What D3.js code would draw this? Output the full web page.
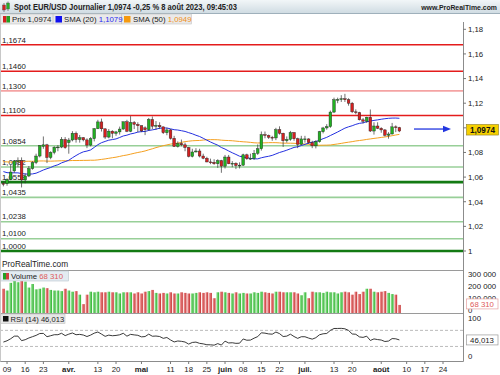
<!DOCTYPE html>
<html>
<head>
<meta charset="utf-8">
<script src="https://cdnjs.cloudflare.com/ajax/libs/d3/7.8.5/d3.min.js"></script>
<style>
body { margin: 0; background: #fff; }
svg { display: block; font-family: "Liberation Sans", Arial, sans-serif; }
</style>
</head>
<body>
<div id="chart"></div>
<script>
// EUR/USD daily candles, 8 mars -> 8 août 2023 (one value per trading day)
var opens = [1.0548,1.0546,1.0581,1.0650,1.0731,1.0733,1.0577,1.0609,1.0669,1.0718,
  1.0771,1.0850,1.0862,1.0759,1.0800,1.0843,1.0844,1.0906,1.0880,1.0901,
  1.0956,1.0905,1.0920,1.0902,1.0860,1.0912,1.0993,1.1048,1.0992,1.0925,
  1.0973,1.0955,1.0967,1.0990,1.1049,1.0972,1.1043,1.1028,1.1017,1.1000,
  1.0985,1.1068,1.1013,1.1020,1.1008,1.0960,1.0983,1.0915,1.0849,1.0873,
  1.0862,1.0840,1.0768,1.0804,1.0812,1.0771,1.0753,1.0723,1.0720,1.0708,
  1.0734,1.0689,1.0763,1.0708,1.0712,1.0694,1.0697,1.0781,1.0749,1.0752,
  1.0793,1.0830,1.0945,1.0938,1.0923,1.0918,1.0985,1.0956,1.0895,1.0906,
  1.0962,1.0911,1.0866,1.0910,1.0910,1.0880,1.0854,1.0888,1.0968,1.0999,
  1.1010,1.1128,1.1228,1.1230,1.1236,1.1228,1.1200,1.1130,1.1124,1.1065,
  1.1054,1.1086,1.0974,1.1015,1.0996,1.0983,1.0940,1.0950,1.1008,1.1002];
var highs = [1.0565,1.0590,1.0700,1.0737,1.0760,1.0760,1.0630,1.0690,1.0730,1.0790,
  1.0860,1.0930,1.0870,1.0810,1.0850,1.0860,1.0925,1.0925,1.0918,1.0973,
  1.0970,1.0942,1.0925,1.0915,1.0925,1.0998,1.1065,1.1075,1.0995,1.0990,
  1.0980,1.0975,1.1010,1.1050,1.1065,1.1095,1.1055,1.1045,1.1020,1.1012,
  1.1080,1.1092,1.1055,1.1045,1.1010,1.1000,1.0990,1.0935,1.0890,1.0905,
  1.0880,1.0845,1.0830,1.0835,1.0830,1.0790,1.0765,1.0750,1.0745,1.0745,
  1.0740,1.0780,1.0780,1.0730,1.0720,1.0720,1.0790,1.0790,1.0790,1.0820,
  1.0865,1.0970,1.0970,1.0945,1.0935,1.1000,1.1012,1.0960,1.0930,1.0975,
  1.0965,1.0920,1.0935,1.0935,1.0915,1.0895,1.0900,1.0975,1.1008,1.1030,
  1.1140,1.1245,1.1245,1.1265,1.1276,1.1240,1.1210,1.1150,1.1130,1.1080,
  1.1090,1.1149,1.1045,1.1045,1.1005,1.0990,1.0965,1.1040,1.1020,1.1008];
var lows = [1.0525,1.0530,1.0575,1.0635,1.0680,1.0516,1.0550,1.0600,1.0660,1.0705,
  1.0760,1.0830,1.0714,1.0745,1.0785,1.0810,1.0835,1.0830,1.0790,1.0890,
  1.0880,1.0880,1.0890,1.0835,1.0850,1.0890,1.0990,1.0970,1.0910,1.0915,
  1.0915,1.0935,1.0945,1.0985,1.0965,1.0965,1.0990,1.0965,1.0965,1.0941,
  1.0975,1.0990,1.0985,1.0990,1.0950,1.0940,1.0905,1.0845,1.0840,1.0850,
  1.0810,1.0760,1.0760,1.0800,1.0760,1.0745,1.0720,1.0705,1.0700,1.0675,
  1.0635,1.0670,1.0705,1.0680,1.0665,1.0670,1.0690,1.0740,1.0740,1.0740,
  1.0780,1.0815,1.0915,1.0910,1.0895,1.0900,1.0945,1.0845,1.0880,1.0895,
  1.0895,1.0835,1.0860,1.0880,1.0870,1.0835,1.0833,1.0880,1.0955,1.0985,
  1.1000,1.1120,1.1200,1.1210,1.1210,1.1180,1.1120,1.1110,1.1060,1.1035,
  1.1040,1.0966,1.0945,1.0990,1.0960,1.0930,1.0912,1.0945,1.0965,1.0965];
var closes = [1.0546,1.0581,1.0641,1.0731,1.0733,1.0577,1.0609,1.0669,1.0718,1.0771,
  1.0855,1.0862,1.0759,1.0800,1.0843,1.0844,1.0906,1.0839,1.0901,1.0956,
  1.0905,1.0920,1.0902,1.0860,1.0912,1.0993,1.1048,1.0992,1.0925,1.0973,
  1.0955,1.0967,1.0990,1.1049,1.0972,1.1043,1.1028,1.1017,1.0975,1.0985,
  1.1068,1.1013,1.1020,1.1008,1.0960,1.0983,1.0915,1.0849,1.0873,1.0862,
  1.0840,1.0768,1.0804,1.0812,1.0771,1.0753,1.0723,1.0720,1.0708,1.0734,
  1.0689,1.0763,1.0708,1.0712,1.0694,1.0697,1.0781,1.0749,1.0752,1.0793,
  1.0830,1.0945,1.0938,1.0923,1.0918,1.0985,1.0956,1.0895,1.0906,1.0962,
  1.0911,1.0866,1.0910,1.0910,1.0880,1.0854,1.0888,1.0968,1.0999,1.1010,
  1.1128,1.1228,1.1230,1.1236,1.1228,1.1200,1.1130,1.1124,1.1065,1.1054,
  1.1086,1.0974,1.1015,1.0996,1.0983,1.0940,1.0950,1.1008,1.1002,1.0974];
var volumes = [205,190,255,275,260,270,265,215,245,200,
  205,215,210,195,190,190,185,205,190,180,
  185,155,75,155,180,175,180,175,175,180,
  175,175,165,175,175,175,165,175,165,180,
  185,195,170,165,170,165,175,165,165,175,
  170,165,165,170,175,170,175,170,125,175,
  180,175,170,165,175,165,170,165,165,175,
  170,180,175,170,165,180,180,175,175,175,
  175,165,150,175,125,180,175,175,170,180,
  175,175,165,175,180,175,155,180,160,180,
  205,205,180,175,180,185,170,160,155,68.31];   // milliers
// closes before the visible window, only used to seed SMA and RSI
var earlierCloses = [1.0612,1.0660,1.0705,1.0665,1.0547,1.0606,1.0521,1.0645,1.0732,1.0735,
  1.0761,1.0852,1.0830,1.0822,1.0789,1.0794,1.0831,1.0855,1.0870,1.0885,
  1.0917,1.0890,1.0869,1.0846,1.0863,1.0989,1.0910,1.0794,1.0727,1.0728,
  1.0713,1.0750,1.0679,1.0724,1.0738,1.0688,1.0676,1.0695,1.0686,1.0650,
  1.0605,1.0595,1.0546,1.0608,1.0577,1.0668,1.0597,1.0633,1.0682,1.0549];

var levels = [1.1674, 1.1460, 1.1300, 1.1100, 1.0854, 1.0682, 1.0559, 1.0435, 1.0238, 1.0100, 1.0000];
var levelKinds = ["res", "res", "resWeak", "res", "sup", "sup", "supStrong", "sup", "sup", "sup", "supStrong"];

var priceTicks = [1.00, 1.02, 1.04, 1.06, 1.08, 1.10, 1.12, 1.14, 1.16, 1.18];
var volumeTicks = [0, 100000, 200000, 300000];
var rsiTicks = [0, 100];
var rsiBands = [30, 70];

var tickDates = ["2023-03-09","2023-03-16","2023-03-23","2023-04-03","2023-04-13","2023-04-20",
  "2023-05-01","2023-05-11","2023-05-18","2023-05-25","2023-06-01","2023-06-08","2023-06-15",
  "2023-06-22","2023-07-03","2023-07-13","2023-07-20","2023-08-01","2023-08-10","2023-08-17","2023-08-24"];
var tickLabels = ["09","16","23","avr.","13","20","mai","11","18","25","juin","08","15","22",
  "juil.","13","20","août","10","17","24"];

// ---------------------------
var W = 500, H = 375, plotR = 463;
var svg = d3.select("#chart").append("svg").attr("width", W).attr("height", H);
var defs = svg.append("defs");

// trading days (weekdays) used as x positions
var days = d3.timeDay.range(new Date(2023, 2, 8), new Date(2023, 8, 1))
  .filter(function(d) { return d.getDay() > 0 && d.getDay() < 6; });
var fmt = d3.timeFormat("%Y-%m-%d");
var dayIndex = {};
days.forEach(function(d, i) { dayIndex[fmt(d)] = i; });

var x = d3.scaleLinear().domain([0, 121]).range([3.4, 443]);
var y = d3.scaleLinear().domain([1.0, 1.18]).range([251, 29.3]);
var yv = d3.scaleLinear().domain([0, 300000]).range([313, 277.5]);
var yr = d3.scaleLinear().domain([0, 100]).range([358.5, 318.3]);

function frNum(v, d) { return d3.format("." + d + "f")(v).replace(".", ","); }

// indicators
var all = earlierCloses.concat(closes), off = earlierCloses.length;
function sma(vals, n) {
  return vals.map(function(v, i) { return i >= n - 1 ? d3.mean(vals.slice(i - n + 1, i + 1)) : null; });
}
function rsi(vals, n) {
  var out = [], g = 0, l = 0;
  for (var i = 1; i < vals.length; i++) {
    var ch = vals[i] - vals[i - 1];
    var up = Math.max(ch, 0), dn = Math.max(-ch, 0);
    if (i <= n) { g += up / n; l += dn / n; }
    else { g = (g * (n - 1) + up) / n; l = (l * (n - 1) + dn) / n; }
    out[i] = i >= n ? 100 - 100 / (1 + g / l) : null;
  }
  return out;
}
var sma20 = sma(all, 20).slice(off), sma50 = sma(all, 50).slice(off), rsi14 = rsi(all, 14).slice(off);

// --- header
var hg = defs.append("linearGradient").attr("id", "hdr").attr("x1", 0).attr("y1", 0).attr("x2", 0).attr("y2", 1);
hg.append("stop").attr("offset", 0).attr("stop-color", "#f2f6f8");
hg.append("stop").attr("offset", 1).attr("stop-color", "#cfdbe2");
svg.append("rect").attr("x", 0).attr("y", 0).attr("width", W).attr("height", 13.5).attr("fill", "url(#hdr)");
svg.append("line").attr("x1", 0).attr("x2", W).attr("y1", 13.5).attr("y2", 13.5).attr("stroke", "#9fb0bb");
// little candle icon
svg.append("line").attr("x1", 4).attr("x2", 4).attr("y1", 3).attr("y2", 12).attr("stroke", "#444").attr("stroke-width", 0.6);
svg.append("rect").attr("x", 2.5).attr("y", 5).attr("width", 3).attr("height", 5).attr("fill", "#d62020").attr("stroke", "#555").attr("stroke-width", 0.4);
svg.append("line").attr("x1", 8).attr("x2", 8).attr("y1", 1.5).attr("y2", 11).attr("stroke", "#444").attr("stroke-width", 0.6);
svg.append("rect").attr("x", 6.5).attr("y", 3).attr("width", 3).attr("height", 6).attr("fill", "#26b026").attr("stroke", "#555").attr("stroke-width", 0.4);
svg.append("text").attr("x", 14).attr("y", 10).attr("font-size", 8.5).attr("font-weight", "bold").attr("fill", "#222")
  .attr("textLength", 223).attr("lengthAdjust", "spacingAndGlyphs")
  .text("Spot EUR/USD Journalier 1,0974 -0,25 % 8 août 2023, 09:45:03");
svg.append("text").attr("x", 497).attr("y", 10).attr("text-anchor", "end").attr("font-size", 6.9).attr("font-weight", "bold").attr("fill", "#222")
  .text("www.ProRealTime.com");

// --- main panel
var clip = defs.append("clipPath").attr("id", "mainClip");
clip.append("rect").attr("x", 0).attr("y", 14).attr("width", plotR).attr("height", 256);
var main = svg.append("g").attr("clip-path", "url(#mainClip)");

var kindStyle = {
  res: { c: "#e41c1c", w: 1.4 },
  resWeak: { c: "#f4a3a3", w: 1.8 },
  sup: { c: "#98cf98", w: 1.6 },
  supStrong: { c: "#137a13", w: 2.6 }
};
main.selectAll("line.level").data(levels).enter().append("line").attr("class", "level")
  .attr("x1", 0).attr("x2", plotR)
  .attr("y1", function(d) { return y(d); }).attr("y2", function(d) { return y(d); })
  .attr("stroke", function(d, i) { return kindStyle[levelKinds[i]].c; })
  .attr("stroke-width", function(d, i) { return kindStyle[levelKinds[i]].w; });
main.selectAll("text.level").data(levels).enter().append("text").attr("class", "level")
  .attr("x", 2).attr("y", function(d) { return y(d) - 2.2; })
  .attr("font-size", 7.8).attr("fill", "#222")
  .text(function(d) { return frNum(d, 4); });

var line = d3.line().defined(function(d) { return d != null; })
  .x(function(d, i) { return x(i); }).y(function(d) { return y(d); });
main.append("path").datum(sma50).attr("d", line).attr("fill", "none").attr("stroke", "#f5a020").attr("stroke-width", 1);
main.append("path").datum(sma20).attr("d", line).attr("fill", "none").attr("stroke", "#2430e0").attr("stroke-width", 1);

var cw = 2.7;
var candles = main.selectAll("g.candle").data(closes).enter().append("g").attr("class", "candle");
candles.append("line")
  .attr("x1", function(d, i) { return x(i); }).attr("x2", function(d, i) { return x(i); })
  .attr("y1", function(d, i) { return y(highs[i]); }).attr("y2", function(d, i) { return y(lows[i]); })
  .attr("stroke", "#333").attr("stroke-width", 0.7);
candles.append("rect")
  .attr("x", function(d, i) { return x(i) - cw / 2; })
  .attr("y", function(d, i) { return y(Math.max(opens[i], d)); })
  .attr("width", cw)
  .attr("height", function(d, i) { return Math.max(0.8, Math.abs(y(opens[i]) - y(d))); })
  .attr("fill", function(d, i) { return d >= opens[i] ? "#22b022" : "#d42020"; })
  .attr("stroke", "#222").attr("stroke-width", 0.4);

// blue arrow towards the last price
var lastY = y(closes[closes.length - 1]) - 2;
svg.append("line").attr("x1", 414).attr("x2", 446).attr("y1", lastY).attr("y2", lastY).attr("stroke", "#2236e0").attr("stroke-width", 1.3);
svg.append("path").attr("d", "M443," + (lastY - 3.2) + "L451," + lastY + "L443," + (lastY + 3.2) + "Z").attr("fill", "#2236e0");

// right price axis
svg.append("line").attr("x1", plotR + 0.5).attr("x2", plotR + 0.5).attr("y1", 22).attr("y2", 361.5).attr("stroke", "#8c8c8c");
svg.selectAll("line.pt").data(priceTicks).enter().append("line").attr("class", "pt")
  .attr("x1", plotR).attr("x2", plotR + 3).attr("y1", function(d) { return y(d); }).attr("y2", function(d) { return y(d); })
  .attr("stroke", "#777");
svg.selectAll("text.pt").data(priceTicks).enter().append("text").attr("class", "pt")
  .attr("x", 468).attr("y", function(d) { return y(d) + 2.8; })
  .attr("font-size", 7.8).attr("fill", "#222")
  .text(function(d) { return d === 1 ? "1" : frNum(d, 2); });

// last price box
svg.append("rect").attr("x", 466.5).attr("y", lastY - 4.5).attr("width", 32).attr("height", 10.5)
  .attr("fill", "#f6d000").attr("stroke", "#8a7a20").attr("stroke-width", 0.6);
svg.append("text").attr("x", 482.5).attr("y", lastY + 3.6).attr("text-anchor", "middle").attr("font-size", 8.2).attr("font-weight", "bold").attr("fill", "#111")
  .text(frNum(closes[closes.length - 1], 4));

// legend row
svg.append("rect").attr("x", 0.5).attr("y", 14).attr("width", 191).attr("height", 10).attr("fill", "#e9e9e9").attr("stroke", "#c4c4c4").attr("stroke-width", 0.6);
[53, 121.5].forEach(function(sx) {
  svg.append("line").attr("x1", sx).attr("x2", sx).attr("y1", 14).attr("y2", 24).attr("stroke", "#c4c4c4").attr("stroke-width", 0.8);
});
svg.append("rect").attr("x", 3).attr("y", 16).attr("width", 3.5).attr("height", 6.5).attr("fill", "#d42020");
svg.append("rect").attr("x", 6.5).attr("y", 16).attr("width", 3.5).attr("height", 6.5).attr("fill", "#22a022");
svg.append("text").attr("x", 12).attr("y", 22).attr("font-size", 7.8).attr("fill", "#222").text("Prix 1,0974");
svg.append("rect").attr("x", 55.5).attr("y", 16).attr("width", 6.5).attr("height", 6.5).attr("fill", "#1010f0");
var t20 = svg.append("text").attr("x", 64).attr("y", 22).attr("font-size", 7.8).attr("fill", "#222");
t20.append("tspan").text("SMA (20) ");
t20.append("tspan").attr("fill", "#2a2af0").text("1,1079");
svg.append("rect").attr("x", 124).attr("y", 16).attr("width", 6.5).attr("height", 6.5).attr("fill", "#f59a10");
var t50 = svg.append("text").attr("x", 133).attr("y", 22).attr("font-size", 7.8).attr("fill", "#222");
t50.append("tspan").text("SMA (50) ");
t50.append("tspan").attr("fill", "#f09018").text("1,0949");

svg.append("text").attr("x", 2).attr("y", 267).attr("font-size", 8.3).attr("fill", "#222").text("ProRealTime.com");

// --- volume panel
svg.append("line").attr("x1", 0).attr("x2", plotR).attr("y1", 270.5).attr("y2", 270.5).attr("stroke", "#9a9a9a");
function grad(id, a, b) {
  var g = defs.append("linearGradient").attr("id", id).attr("x1", 0).attr("x2", 1).attr("y1", 0).attr("y2", 0);
  g.append("stop").attr("offset", 0).attr("stop-color", a);
  g.append("stop").attr("offset", 1).attr("stop-color", b);
}
grad("gUp", "#9be89b", "#2fb02f");
grad("gDn", "#f3a0a0", "#c43030");
svg.selectAll("rect.vol").data(volumes).enter().append("rect").attr("class", "vol")
  .attr("x", function(d, i) { return x(i) - 1.4; })
  .attr("y", function(d) { return yv(d * 1000); })
  .attr("width", 2.8)
  .attr("height", function(d) { return yv(0) - yv(d * 1000); })
  .attr("fill", function(d, i) { return closes[i] >= opens[i] ? "url(#gUp)" : "url(#gDn)"; });
svg.selectAll("text.vt").data(volumeTicks).enter().append("text").attr("class", "vt")
  .attr("x", 468).attr("y", function(d) { return yv(d) - 0.5; })
  .attr("font-size", 7.8).attr("fill", "#222")
  .text(function(d) { return d === 0 ? "0" : d3.format(",")(d).replace(/,/g, " "); });
svg.append("rect").attr("x", 0.5).attr("y", 271).attr("width", 68).attr("height", 10).attr("fill", "#e3ebf1").attr("stroke", "#b8c4cc").attr("stroke-width", 0.6);
svg.append("rect").attr("x", 3).attr("y", 273).attr("width", 3).attr("height", 6.5).attr("fill", "#22a022");
svg.append("rect").attr("x", 6).attr("y", 273).attr("width", 3).attr("height", 6.5).attr("fill", "#d04040");
var tv = svg.append("text").attr("x", 11).attr("y", 279.3).attr("font-size", 7.8).attr("fill", "#222");
tv.append("tspan").text("Volume ");
tv.append("tspan").attr("fill", "#e05a5a").text("68 310");
var vlast = yv(volumes[volumes.length - 1] * 1000);
svg.append("rect").attr("x", 466.5).attr("y", vlast - 6).attr("width", 31.5).attr("height", 10).attr("fill", "#fff").attr("stroke", "#e6a0a0").attr("stroke-width", 0.7);
svg.append("text").attr("x", 482).attr("y", vlast + 1.8).attr("text-anchor", "middle").attr("font-size", 7.8).attr("fill", "#e05a5a").text("68 310");

// --- RSI panel
svg.append("line").attr("x1", 0).attr("x2", plotR).attr("y1", 313.5).attr("y2", 313.5).attr("stroke", "#9a9a9a");
svg.selectAll("line.band").data(rsiBands).enter().append("line").attr("class", "band")
  .attr("x1", 0).attr("x2", plotR).attr("y1", function(d) { return yr(d); }).attr("y2", function(d) { return yr(d); })
  .attr("stroke", "#aaa").attr("stroke-width", 0.8).attr("stroke-dasharray", "3,2");
var rline = d3.line().defined(function(d) { return d != null; })
  .x(function(d, i) { return x(i); }).y(function(d) { return yr(d); });
svg.append("path").datum(rsi14).attr("d", rline).attr("fill", "none").attr("stroke", "#222").attr("stroke-width", 0.9);
svg.selectAll("text.rt").data(rsiTicks).enter().append("text").attr("class", "rt")
  .attr("x", 468).attr("y", function(d) { return yr(d) + (d === 0 ? 0 : 2.8); })
  .attr("font-size", 7.8).attr("fill", "#222").text(function(d) { return d; });
svg.append("rect").attr("x", 0.5).attr("y", 314).attr("width", 64.5).attr("height", 9.5).attr("fill", "#e6e6e6").attr("stroke", "#c0c0c0").attr("stroke-width", 0.6);
svg.append("rect").attr("x", 3).attr("y", 316).attr("width", 5.5).attr("height", 5.5).attr("fill", "#111");
svg.append("text").attr("x", 10.5).attr("y", 321.8).attr("font-size", 7.6).attr("fill", "#222").text("RSI (14) 46,013");
var rlast = yr(rsi14[rsi14.length - 1]);
svg.append("rect").attr("x", 466.5).attr("y", rlast - 5).attr("width", 31.5).attr("height", 10).attr("fill", "#fff").attr("stroke", "#999").attr("stroke-width", 0.7);
svg.append("text").attr("x", 482).attr("y", rlast + 2.8).attr("text-anchor", "middle").attr("font-size", 7.8).attr("fill", "#222").text("46,013");

// --- date axis
svg.append("line").attr("x1", 0).attr("x2", plotR + 0.5).attr("y1", 361.5).attr("y2", 361.5).attr("stroke", "#8c8c8c");
svg.append("line").attr("x1", 0.5).attr("x2", 0.5).attr("y1", 14).attr("y2", 361.5).attr("stroke", "#c8c8c8");
var ticks = tickDates.map(function(s, i) { return { i: dayIndex[s], label: tickLabels[i] }; });
svg.selectAll("line.xt").data(ticks).enter().append("line").attr("class", "xt")
  .attr("x1", function(d) { return x(d.i); }).attr("x2", function(d) { return x(d.i); })
  .attr("y1", 361.5).attr("y2", 364).attr("stroke", "#777");
svg.selectAll("text.xt").data(ticks).enter().append("text").attr("class", "xt")
  .attr("x", function(d) { return x(d.i); }).attr("y", 372)
  .attr("text-anchor", "middle").attr("font-size", 7.8).attr("fill", "#222")
  .attr("font-weight", function(d) { return /^[0-9]/.test(d.label) ? "normal" : "bold"; })
  .text(function(d) { return d.label; });
</script>
</body>
</html>
